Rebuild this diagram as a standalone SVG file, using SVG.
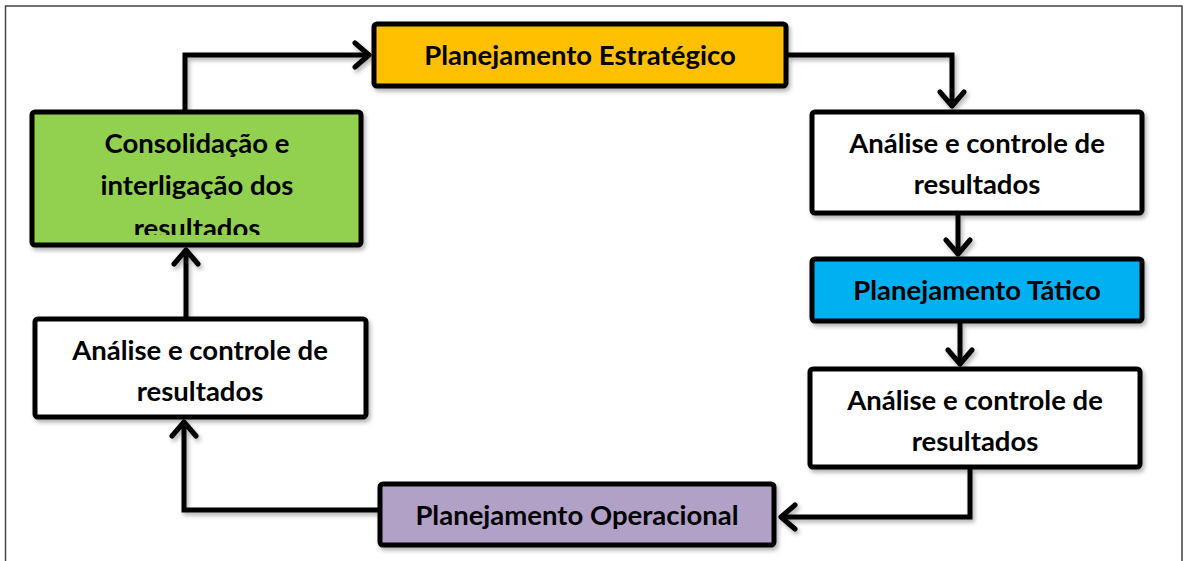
<svg xmlns="http://www.w3.org/2000/svg" width="1184" height="561" viewBox="0 0 1184 561">
  <style>
    .box { stroke: #000; stroke-width: 5; }
    .lbl { font-family: Lato, "Open Sans", "Liberation Sans", sans-serif; font-weight: bold; font-size: 27.5px; fill: #000; text-anchor: middle; }
    .conn { fill: none; stroke: #000; stroke-width: 5; stroke-linejoin: miter; }
  </style>
  <defs>
    <filter id="sh" x="-10%" y="-10%" width="130%" height="140%">
      <feDropShadow dx="2" dy="3" stdDeviation="2" flood-color="#000" flood-opacity="0.3"/>
    </filter>
    <marker id="arr" viewBox="-18 -15 22 30" markerWidth="22" markerHeight="30" refX="0" refY="0" orient="auto" markerUnits="userSpaceOnUse">
      <path d="M -14 -12 L 0 0 L -14 12" fill="none" stroke="#000" stroke-width="5" stroke-linecap="round" stroke-linejoin="round"/>
    </marker>
    <clipPath id="clipCons">
      <rect x="30" y="110" width="334" height="125"/>
    </clipPath>
  </defs>

  <rect width="1184" height="561" fill="#fff"/>
  <g id="frame" fill="none" stroke="#444" stroke-width="1.5">
    <path d="M 5.5 561 L 5.5 6 L 1182 6 L 1182 561"/>
  </g>

  <g id="connectors" class="conn" filter="url(#sh)">
    <path d="M 185 110 L 185 55 L 369 55" marker-end="url(#arr)"/>
    <path d="M 788 55 L 952 55 L 952 106" marker-end="url(#arr)"/>
    <path d="M 958 215 L 958 254" marker-end="url(#arr)"/>
    <path d="M 960 323 L 960 364" marker-end="url(#arr)"/>
    <path d="M 970 469 L 970 517 L 781 517" marker-end="url(#arr)"/>
    <path d="M 378 510 L 184 510 L 184 422" marker-end="url(#arr)"/>
    <path d="M 186 317 L 186 250" marker-end="url(#arr)"/>
  </g>

  <g id="estrategico">
    <rect class="box" x="374" y="24" width="412" height="62" rx="3" fill="#FFC000" filter="url(#sh)"/>
    <text class="lbl" x="580" y="65">Planejamento Estratégico</text>
  </g>

  <g id="analise-1">
    <rect class="box" x="812" y="112" width="330" height="101" rx="3" fill="#fff" filter="url(#sh)"/>
    <text class="lbl" x="977" y="153">Análise e controle de</text>
    <text class="lbl" x="977" y="194">resultados</text>
  </g>

  <g id="tatico">
    <rect class="box" x="812" y="259" width="330" height="62" rx="3" fill="#00B0F0" filter="url(#sh)"/>
    <text class="lbl" x="977" y="300">Planejamento Tático</text>
  </g>

  <g id="analise-2">
    <rect class="box" x="810" y="369" width="330" height="98" rx="3" fill="#fff" filter="url(#sh)"/>
    <text class="lbl" x="975" y="410">Análise e controle de</text>
    <text class="lbl" x="975" y="451">resultados</text>
  </g>

  <g id="operacional">
    <rect class="box" x="380" y="484" width="394" height="61" rx="3" fill="#B2A1C7" filter="url(#sh)"/>
    <text class="lbl" x="577" y="525">Planejamento Operacional</text>
  </g>

  <g id="analise-3">
    <rect class="box" x="35" y="319" width="331" height="98" rx="3" fill="#fff" filter="url(#sh)"/>
    <text class="lbl" x="200" y="360">Análise e controle de</text>
    <text class="lbl" x="200" y="401">resultados</text>
  </g>

  <g id="consolidacao">
    <rect class="box" x="32" y="112" width="329" height="133" rx="3" fill="#92D050" filter="url(#sh)"/>
    <g clip-path="url(#clipCons)">
      <text class="lbl" x="197" y="153">Consolidação e</text>
      <text class="lbl" x="197" y="195">interligação dos</text>
      <text class="lbl" x="197" y="238">resultados</text>
    </g>
  </g>
</svg>
